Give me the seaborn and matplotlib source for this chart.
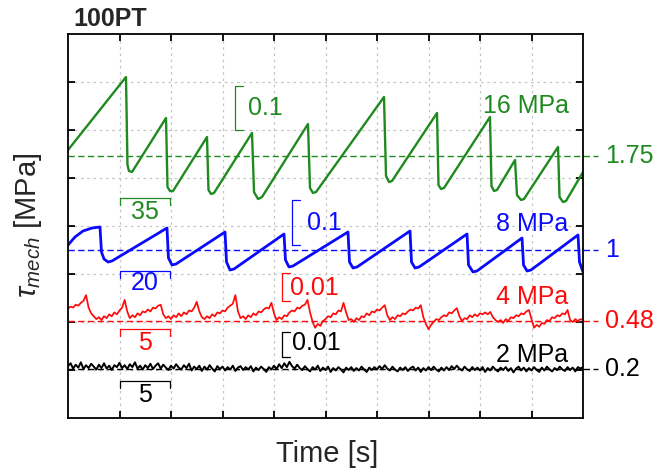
import numpy as np
import pandas as pd
import matplotlib
matplotlib.use("Agg")
import matplotlib.pyplot as plt
import seaborn as sns

# ---------------- data (grid units: x 0..10, y 0..8) ----------------
green_t = [0.0, 1.126, 1.155, 1.184, 1.243, 1.903, 1.932, 1.981, 2.039, 2.699, 2.728,
           2.777, 2.835, 3.573, 3.612, 3.689, 3.767, 4.660, 4.699, 4.757, 4.816, 6.136,
           6.175, 6.233, 6.291, 7.165, 7.194, 7.243, 7.301, 8.194, 8.223, 8.272, 8.330,
           8.680, 8.718, 8.796, 8.854, 9.515, 9.544, 9.612, 9.670, 10.0]
green_v = [5.583, 7.104, 5.271, 5.146, 5.125, 6.25, 4.813, 4.729, 4.729, 5.854, 4.75,
           4.667, 4.688, 5.938, 4.708, 4.563, 4.604, 6.125, 4.792, 4.688, 4.708, 6.688,
           5.042, 4.917, 4.938, 6.354, 4.854, 4.771, 4.792, 6.271, 4.833, 4.729, 4.75,
           5.375, 4.646, 4.542, 4.563, 5.646, 4.604, 4.5, 4.521, 5.125]

blue_t = [0.0, 0.136, 0.291, 0.466, 0.621, 0.650, 0.699, 0.777, 0.854, 1.922, 1.951,
          2.019, 2.097, 3.049, 3.078, 3.146, 3.223, 4.194, 4.223, 4.291, 4.369, 5.437,
          5.466, 5.534, 5.612, 6.641, 6.670, 6.738, 6.816, 7.748, 7.777, 7.864, 7.942,
          8.816, 8.845, 8.913, 8.990, 9.903, 9.932, 10.0]
blue_v = [3.604, 3.771, 3.896, 3.958, 3.979, 3.458, 3.313, 3.25, 3.271, 3.958, 3.333,
          3.188, 3.208, 3.875, 3.25, 3.083, 3.104, 3.833, 3.292, 3.146, 3.167, 3.875,
          3.25, 3.125, 3.146, 3.896, 3.25, 3.125, 3.146, 3.833, 3.188, 3.042, 3.063,
          3.75, 3.188, 3.063, 3.083, 3.813, 3.25, 3.042]

red_v = [2.28, 2.32, 2.30, 2.36, 2.34, 2.40, 2.44, 2.56, 2.30, 2.18,
         2.12, 2.06, 2.10, 2.04, 2.12, 2.08, 2.16, 2.12, 2.20, 2.16,
         2.24, 2.30, 2.46, 2.22, 2.08, 2.14, 2.10, 2.18, 2.14, 2.22,
         2.20, 2.26, 2.22, 2.30, 2.28, 2.34, 2.36, 2.16, 2.08, 2.12,
         2.06, 2.14, 2.10, 2.18, 2.12, 2.20, 2.16, 2.24, 2.22, 2.30,
         2.42, 2.22, 2.10, 2.06, 2.12, 2.08, 2.16, 2.12, 2.20, 2.18,
         2.24, 2.22, 2.30, 2.34, 2.38, 2.56, 2.22, 2.08, 2.12, 2.06,
         2.14, 2.10, 2.18, 2.14, 2.22, 2.20, 2.26, 2.30, 2.28, 2.40,
         2.18, 2.04, 2.10, 2.06, 2.14, 2.12, 2.20, 2.24, 2.22, 2.30,
         2.28, 2.34, 2.36, 2.46, 2.20, 2.00, 1.88, 1.96, 1.92, 2.02,
         2.06, 2.12, 2.10, 2.18, 2.16, 2.24, 2.22, 2.40, 2.20, 2.04,
         2.06, 2.00, 2.08, 2.04, 2.12, 2.10, 2.18, 2.14, 2.22, 2.20,
         2.26, 2.24, 2.30, 2.35, 2.14, 2.04, 2.10, 2.06, 2.14, 2.12,
         2.18, 2.16, 2.22, 2.26, 2.24, 2.30, 2.28, 2.35, 2.10, 1.96,
         1.85, 1.94, 2.00, 2.06, 2.04, 2.10, 2.14, 2.12, 2.20, 2.18,
         2.24, 2.29, 2.12, 2.02, 2.08, 2.06, 2.14, 2.10, 2.16, 2.12,
         2.18, 2.16, 2.20, 2.16, 2.21, 2.10, 2.04, 2.00, 2.04, 1.98,
         2.06, 2.02, 2.10, 2.08, 2.14, 2.12, 2.18, 2.16, 2.22, 2.25,
         2.06, 1.88, 1.94, 1.90, 1.98, 1.96, 2.04, 2.02, 2.10, 2.08,
         2.14, 2.12, 2.18, 2.16, 2.25, 2.04, 2.00, 2.06, 2.02, 2.06,
         2.04]

black_v = [1.08, 1.14, 1.03, 1.11, 1.05, 1.16, 1.02, 1.10, 1.04, 1.13,
           1.07, 1.01, 1.11, 1.04, 1.14, 1.03, 1.09, 1.00, 1.10, 1.06,
           1.15, 1.04, 1.10, 1.02, 1.12, 1.06, 1.16, 1.03, 1.09, 1.01,
           1.10, 1.04, 1.13, 1.02, 1.09, 1.14, 1.03, 1.11, 1.05, 1.00,
           1.09, 1.03, 1.12, 1.05, 1.01, 1.10, 1.04, 1.13, 0.99, 1.07,
           1.02, 1.09, 0.98, 1.07, 1.01, 1.10, 1.03, 0.97, 1.08, 1.02,
           1.07, 0.99, 1.06, 1.01, 1.09, 0.98, 1.05, 1.08, 1.00, 1.06,
           1.01, 1.08, 0.97, 1.05, 1.00, 1.07, 1.02, 0.96, 1.06, 1.01,
           1.09, 1.02, 1.12, 1.04, 1.14, 1.06, 1.17, 1.08, 1.03, 1.11,
           1.04, 1.00, 1.08, 1.02, 0.97, 1.06, 1.01, 1.09, 0.98, 1.05,
           1.00, 1.07, 0.96, 1.04, 0.99, 1.06, 1.01, 0.95, 1.05, 1.00,
           1.06, 0.98, 1.04, 0.99, 1.07, 1.01, 0.96, 1.05, 1.00, 1.06,
           1.01, 1.08, 1.02, 1.10, 1.03, 0.99, 1.07, 1.01, 0.97, 1.05,
           1.00, 1.06, 0.98, 1.04, 1.07, 0.99, 1.05, 0.96, 1.04, 0.99,
           1.06, 1.00, 1.07, 1.01, 0.97, 1.05, 0.99, 1.06, 1.00, 1.08,
           1.02, 1.09, 1.03, 0.99, 1.07, 1.01, 0.98, 1.06, 1.00, 1.05,
           0.99, 1.06, 0.96, 1.04, 0.99, 1.07, 1.01, 0.97, 1.05, 1.00,
           1.06, 0.98, 1.04, 0.95, 1.03, 1.07, 0.99, 1.05, 0.97, 1.04,
           0.99, 1.06, 1.00, 0.96, 1.05, 0.99, 1.07, 1.01, 0.97, 1.04,
           1.00, 1.07, 1.01, 0.98, 1.06, 1.00, 1.05, 0.97, 1.06, 1.03,
           1.06]

series_names = ["16 MPa", "8 MPa", "4 MPa", "2 MPa"]
level_values = [5.46, 3.5, 2.02, 1.02]
level_labels = ["1.75", "1", "0.48", "0.2"]
time_bar_labels = ["35", "20", "5", "5"]
stress_bar_labels = ["0.1", "0.1", "0.01", "0.01"]

# ---------------- style ----------------
sns.set_theme(style="white")
plt.rcParams["font.family"] = ["Liberation Sans", "DejaVu Sans"]
plt.rcParams["mathtext.fontset"] = "custom"
plt.rcParams["mathtext.it"] = "Liberation Sans:italic"
plt.rcParams["mathtext.rm"] = "Liberation Sans"

colors = ["#1f8a1f", "#0a0aff", "#ff0a0a", "#000000"]
lws = [1.7, 2.0, 1.25, 1.4]

fig = plt.figure(figsize=(6.58, 4.74), dpi=100)
ax = fig.add_axes([68 / 658, 1 - 418 / 474, (583 - 68) / 658, (418 - 34) / 474])

red_t = np.linspace(0, 10, len(red_v))
black_t = np.linspace(0, 10, len(black_v))
frames = [
    pd.DataFrame({"t": green_t, "v": green_v}),
    pd.DataFrame({"t": blue_t, "v": blue_v}),
    pd.DataFrame({"t": red_t, "v": red_v}),
    pd.DataFrame({"t": black_t, "v": black_v}),
]
for df, c, lw in zip(frames, colors, lws):
    sns.lineplot(data=df, x="t", y="v", ax=ax, color=c, lw=lw,
                 estimator=None, sort=False, zorder=3)

ax.set_xlim(0, 10)
ax.set_ylim(0, 8)
ax.set_xticks(range(1, 10))
ax.set_yticks(range(1, 8))
ax.set_xticklabels([])
ax.set_yticklabels([])
ax.set_xlabel("")
ax.set_ylabel("")
ax.tick_params(direction="in", length=5, width=1.3, top=True, right=True,
               bottom=True, left=True, color="black")
ax.grid(True, color="#c4c4c4", linestyle=(0, (2, 3)), lw=0.9, zorder=0)
for s in ax.spines.values():
    s.set_color("black")
    s.set_linewidth(1.3)
    s.set_zorder(5)

fs = 18
# dashed reference levels + right labels
for yv, lab, c in zip(level_values, level_labels, colors):
    ax.plot([0, 10.29], [yv, yv], color=c, lw=1.0, ls=(0, (4.5, 2.5)),
            clip_on=False, zorder=2)
    ax.text(10.42, yv, lab, color=c, fontsize=fs, ha="left", va="center",
            clip_on=False)

# series names
name_y = [6.5, 4.04, 2.52, 1.31]
for lab, yv, c in zip(series_names, name_y, colors):
    ax.text(9.72, yv, lab, color=c, fontsize=fs, ha="right", va="center")

# time scale bars
tb_y = [4.58, 3.06, 1.85, 0.77]
tb_ty = [4.29, 2.81, 1.56, 0.48]
h = 0.14
for lab, yv, ty, c in zip(time_bar_labels, tb_y, tb_ty, colors):
    ax.plot([1.0, 1.0, 1.98, 1.98], [yv - h, yv, yv, yv - h], color=c, lw=0.9,
            zorder=4)
    ax.text(1.49, ty, lab, color=c, fontsize=fs, ha="center", va="center")

# stress scale bars
sb_x = [3.24, 4.35, 4.155, 4.155]
sb_y = [(6.0, 6.92), (3.60, 4.54), (2.44, 3.02), (1.27, 1.79)]
sb_tx = [3.50, 4.64, 4.31, 4.35]
sb_ty = [6.46, 4.06, 2.71, 1.56]
w = 0.15
for lab, xv, (y0, y1), tx, ty, c in zip(stress_bar_labels, sb_x, sb_y, sb_tx, sb_ty, colors):
    ax.plot([xv + w, xv, xv, xv + w], [y0, y0, y1, y1], color=c, lw=0.9, zorder=4)
    ax.text(tx, ty, lab, color=c, fontsize=fs, ha="left", va="center")

# titles
fig.text(73 / 658, 1 - 19 / 474, "100PT", fontsize=18, fontweight="bold",
         ha="left", va="center")
fig.text(327 / 658, 1 - 462 / 474, "Time [s]", fontsize=21, ha="center",
         va="baseline")
fig.text(28 / 658, 1 - 225 / 474, r"$\tau_{mech}$ [MPa]", fontsize=21,
         rotation=90, ha="center", va="center")

fig.savefig("out.png", dpi=100)
